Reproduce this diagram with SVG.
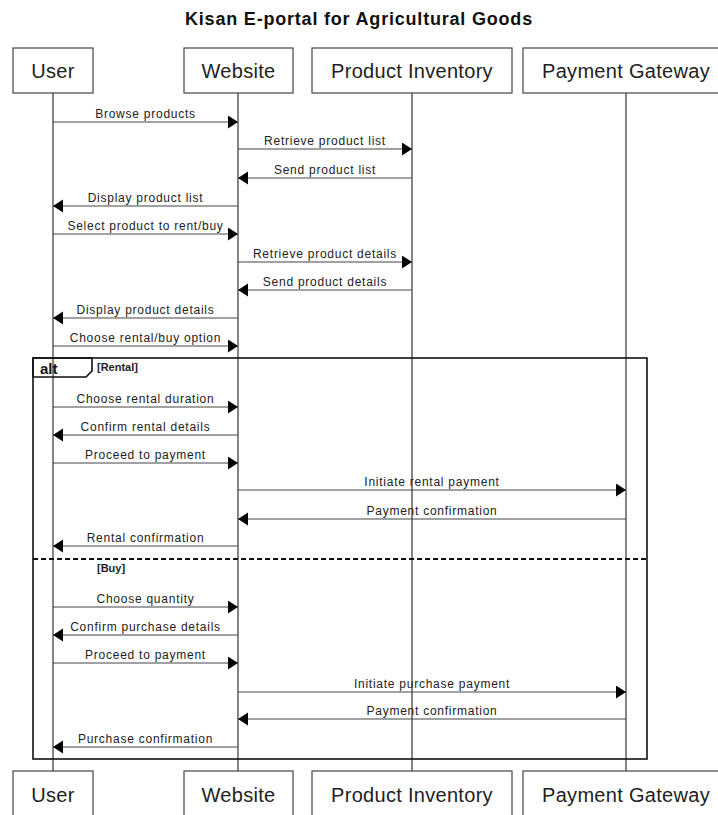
<svg xmlns="http://www.w3.org/2000/svg" width="718" height="815" viewBox="0 0 718 815">
<style>
.bg{fill:#fff}
.title{font-family:"Liberation Sans",Arial,sans-serif;font-size:18px;font-weight:bold;letter-spacing:0.8px;fill:#111;text-anchor:middle}
.box{fill:#fff;stroke:#444;stroke-width:1.2}
.pl{font-family:"Liberation Sans",Arial,sans-serif;font-size:20px;letter-spacing:0.3px;fill:#222;text-anchor:middle}
.life{stroke:#333;stroke-width:1.2}
.msg{stroke:#444;stroke-width:1.2;fill:none;marker-end:url(#ah)}
.ml{font-family:"Liberation Sans",Arial,sans-serif;font-size:12px;letter-spacing:0.75px;fill:#222;text-anchor:middle}
.frame{fill:none;stroke:#111;stroke-width:1.6}
.sep{stroke:#111;stroke-width:2;stroke-dasharray:5,3}
.alt{font-family:"Liberation Sans",Arial,sans-serif;font-size:15px;font-weight:bold;fill:#111}
.guard{font-family:"Liberation Sans",Arial,sans-serif;font-size:11px;font-weight:bold;fill:#222}
</style>
<defs>
<marker id="ah" markerUnits="userSpaceOnUse" markerWidth="11" markerHeight="14" refX="10" refY="6.5" orient="auto">
<path d="M0,0 L10,6.5 L0,13 Z" fill="#000"/>
</marker>
</defs>
<rect class="bg" x="0" y="0" width="718" height="815"/>
<text class="title" x="359" y="25">Kisan E-portal for Agricultural Goods</text>

<g id="lifelines">
<line class="life" x1="53" y1="93" x2="53" y2="771"/>
<line class="life" x1="238" y1="93" x2="238" y2="771"/>
<line class="life" x1="412" y1="93" x2="412" y2="771"/>
<line class="life" x1="626" y1="93" x2="626" y2="771" stroke="#888"/>
</g>

<g id="user">
<rect class="box" x="13" y="48" width="80" height="45"/>
<text class="pl" x="53" y="78">User</text>
<rect class="box" x="13" y="771" width="80" height="50"/>
<text class="pl" x="53" y="802">User</text>
</g>
<g id="website">
<rect class="box" x="184" y="48" width="109" height="45"/>
<text class="pl" x="238.5" y="78">Website</text>
<rect class="box" x="184" y="771" width="109" height="50"/>
<text class="pl" x="238.5" y="802">Website</text>
</g>
<g id="inventory">
<rect class="box" x="312" y="48" width="200" height="45"/>
<text class="pl" x="412" y="78">Product Inventory</text>
<rect class="box" x="312" y="771" width="200" height="50"/>
<text class="pl" x="412" y="802">Product Inventory</text>
</g>
<g id="gateway">
<rect class="box" x="523" y="48" width="206" height="45"/>
<text class="pl" x="626" y="78">Payment Gateway</text>
<rect class="box" x="523" y="771" width="206" height="50"/>
<text class="pl" x="626" y="802">Payment Gateway</text>
</g>

<g id="alt-frame">
<rect class="frame" x="33" y="358" width="614" height="401"/>
<path class="frame" d="M33,358 H92 V371 L86,377 H33 Z" fill="#fff"/>
<text class="alt" x="40" y="374">alt</text>
<text class="guard" x="97" y="371">[Rental]</text>
<line class="sep" x1="33" y1="559" x2="647" y2="559"/>
<text class="guard" x="97" y="572">[Buy]</text>
</g>

<g id="connectors">
<line class="msg" x1="53" y1="122" x2="238" y2="122"/>
<text class="ml" x="145.5" y="118">Browse products</text>
<line class="msg" x1="238" y1="149" x2="412" y2="149"/>
<text class="ml" x="325" y="145">Retrieve product list</text>
<line class="msg" x1="412" y1="178" x2="238" y2="178"/>
<text class="ml" x="325" y="174">Send product list</text>
<line class="msg" x1="238" y1="206" x2="53" y2="206"/>
<text class="ml" x="145.5" y="202">Display product list</text>
<line class="msg" x1="53" y1="234" x2="238" y2="234"/>
<text class="ml" x="145.5" y="230">Select product to rent/buy</text>
<line class="msg" x1="238" y1="262" x2="412" y2="262"/>
<text class="ml" x="325" y="258">Retrieve product details</text>
<line class="msg" x1="412" y1="290" x2="238" y2="290"/>
<text class="ml" x="325" y="286">Send product details</text>
<line class="msg" x1="238" y1="318" x2="53" y2="318"/>
<text class="ml" x="145.5" y="314">Display product details</text>
<line class="msg" x1="53" y1="346" x2="238" y2="346"/>
<text class="ml" x="145.5" y="342">Choose rental/buy option</text>

<line class="msg" x1="53" y1="407" x2="238" y2="407"/>
<text class="ml" x="145.5" y="403">Choose rental duration</text>
<line class="msg" x1="238" y1="435" x2="53" y2="435"/>
<text class="ml" x="145.5" y="431">Confirm rental details</text>
<line class="msg" x1="53" y1="463" x2="238" y2="463"/>
<text class="ml" x="145.5" y="459">Proceed to payment</text>
<line class="msg" x1="238" y1="490" x2="626" y2="490"/>
<text class="ml" x="432" y="486">Initiate rental payment</text>
<line class="msg" x1="626" y1="519" x2="238" y2="519"/>
<text class="ml" x="432" y="515">Payment confirmation</text>
<line class="msg" x1="238" y1="546" x2="53" y2="546"/>
<text class="ml" x="145.5" y="542">Rental confirmation</text>

<line class="msg" x1="53" y1="607" x2="238" y2="607"/>
<text class="ml" x="145.5" y="603">Choose quantity</text>
<line class="msg" x1="238" y1="635" x2="53" y2="635"/>
<text class="ml" x="145.5" y="631">Confirm purchase details</text>
<line class="msg" x1="53" y1="663" x2="238" y2="663"/>
<text class="ml" x="145.5" y="659">Proceed to payment</text>
<line class="msg" x1="238" y1="692" x2="626" y2="692"/>
<text class="ml" x="432" y="688">Initiate purchase payment</text>
<line class="msg" x1="626" y1="719" x2="238" y2="719"/>
<text class="ml" x="432" y="715">Payment confirmation</text>
<line class="msg" x1="238" y1="747" x2="53" y2="747"/>
<text class="ml" x="145.5" y="743">Purchase confirmation</text>
</g>
</svg>
